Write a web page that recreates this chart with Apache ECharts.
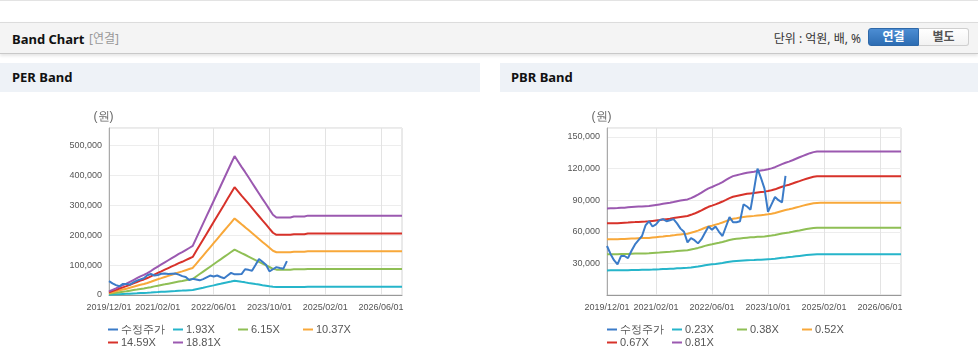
<!DOCTYPE html>
<html><head><meta charset="utf-8">
<script src="https://cdn.jsdelivr.net/npm/echarts@6/dist/echarts.min.js"></script>
<style>
html,body{margin:0;padding:0;width:978px;height:361px;overflow:hidden;background:#fff;font-family:'Noto Sans','Noto Sans CJK KR',sans-serif;}
.abs{position:absolute;}
#topline{left:0;top:0;width:978px;height:1px;background:#e3e3e3;}
#hdr{left:0;top:22px;width:978px;height:30px;background:#f4f4f4;border-top:1px solid #dcdcdc;border-bottom:1px solid #c9c9c9;box-shadow:0 2px 3px rgba(0,0,0,0.10);}
.title{font-weight:bold;font-size:13px;color:#111;line-height:18px;}
.sub{font-size:12px;color:#999;line-height:18px;}
.unit{font-size:12px;color:#333;line-height:18px;}
.btn{top:28px;height:18px;line-height:16px;font-size:12px;font-weight:bold;text-align:center;box-sizing:border-box;}
#b1{left:868px;width:51px;background:linear-gradient(#4c8dd3,#2d6db3);color:#fff;border-radius:3px 0 0 3px;border:1px solid #2e68a8;}
#b2{left:919px;width:50px;background:linear-gradient(#fff,#f2f2f2);color:#555;border:1px solid #cfcfcf;border-left:none;border-radius:0 3px 3px 0;}
.bar{top:63px;height:29px;background:#eef2f7;}
.bar span{position:absolute;left:12px;top:0;line-height:29px;font-weight:bold;font-size:13px;color:#111;}
#chart{left:0;top:92px;width:978px;height:269px;}
</style></head>
<body>
<div id="topline" class="abs"></div>
<div id="hdr" class="abs"></div>
<div class="abs title" style="left:12px;top:30px;">Band Chart</div>
<div class="abs sub" style="left:89px;top:30px;">[연결]</div>
<div class="abs unit" style="right:117px;top:30px;">단위 : 억원, 배, %</div>
<div id="b1" class="abs btn">연결</div>
<div id="b2" class="abs btn">별도</div>
<div class="abs bar" style="left:0;width:480px;"><span>PER Band</span></div>
<div class="abs bar" style="left:500px;width:478px;"><span style="left:11px">PBR Band</span></div>
<div id="chart" class="abs"></div>
<script>
// x axis tick labels and number of data steps between consecutive labels
const tickLabels = ['2019/12/01','2021/02/01','2022/06/01','2023/10/01','2025/02/01','2026/06/01'];
const stepsPerLabel = [14,16,16,16,16,7];

// values in thousands of won
const price = [46.5,39,33,29,37,37,35,42,48,52,56,66,70,65,67,71,72,70,71,72,68,63,60,50,54,52,49,53,59,65,62,65,60,56,65,74,69,69,70,86,84,81,100,120,111,101,79,86,93,90,88,113];

const perNames = ['1.93X','6.15X','10.37X','14.59X','18.81X'];
const per1 = [1.2,1.7,2.3,2.9,3.4,3.9,4.5,5.1,5.7,6.4,6.9,7.5,8.2,9.0,9.7,10.5,11.2,11.9,12.6,13.3,14.1,14.7,15.4,16.1,16.8,19.4,22.0,24.5,27.1,29.7,32.2,34.8,37.3,39.9,42.5,45.0,47.6,45.8,43.9,42.2,40.3,38.5,36.6,34.8,32.9,31.2,29.3,27.5,26.6,26.6,26.6,26.6,26.6,26.9,26.9,26.9,26.9,27.2,27.2,27.2,27.2,27.2,27.2,27.2,27.2,27.2,27.2,27.2,27.2,27.2,27.2,27.2,27.2,27.2,27.2,27.2,27.2,27.2,27.2,27.2,27.2,27.2,27.2,27.2,27.2];
const per2 = [3.9,5.6,7.2,9.2,10.8,12.4,14.4,16.4,18.3,20.3,21.9,23.9,26.2,28.8,31.1,33.4,35.6,37.9,40.2,42.5,44.8,46.8,49.1,51.3,53.6,61.8,70.0,78.2,86.3,94.5,102.7,110.9,119.0,127.2,135.4,143.6,151.7,145.8,140.0,134.4,128.5,122.6,116.7,110.9,105.0,99.4,93.5,87.6,84.7,84.7,84.7,84.7,84.7,85.7,85.7,85.7,85.7,86.7,86.7,86.7,86.7,86.7,86.7,86.7,86.7,86.7,86.7,86.7,86.7,86.7,86.7,86.7,86.7,86.7,86.7,86.7,86.7,86.7,86.7,86.7,86.7,86.7,86.7,86.7,86.7];
const per3 = [6.6,9.4,12.1,15.4,18.2,20.9,24.3,27.6,30.9,34.2,36.9,40.2,44.1,48.5,52.4,56.2,60.1,64.0,67.8,71.7,75.5,78.8,82.7,86.6,90.4,104.2,118.0,131.8,145.5,159.3,173.1,186.9,200.7,214.5,228.2,242.0,255.8,245.9,236.0,226.6,216.7,206.7,196.8,186.9,177.0,167.6,157.7,147.7,142.8,142.8,142.8,142.8,142.8,144.4,144.4,144.4,144.4,146.1,146.1,146.1,146.1,146.1,146.1,146.1,146.1,146.1,146.1,146.1,146.1,146.1,146.1,146.1,146.1,146.1,146.1,146.1,146.1,146.1,146.1,146.1,146.1,146.1,146.1,146.1,146.1];
const per4 = [9.3,13.2,17.1,21.7,25.6,29.5,34.1,38.8,43.4,48.1,52.0,56.6,62.1,68.3,73.7,79.1,84.6,90.0,95.4,100.8,106.3,110.9,116.4,121.8,127.2,146.6,166.0,185.4,204.8,224.2,243.6,263.0,282.4,301.7,321.1,340.5,359.9,346.0,332.0,318.8,304.9,290.9,276.9,263.0,249.0,235.8,221.9,207.9,200.9,200.9,200.9,200.9,200.9,203.2,203.2,203.2,203.2,205.6,205.6,205.6,205.6,205.6,205.6,205.6,205.6,205.6,205.6,205.6,205.6,205.6,205.6,205.6,205.6,205.6,205.6,205.6,205.6,205.6,205.6,205.6,205.6,205.6,205.6,205.6,205.6];
const per5 = [12,17,22,28,33,38,44,50,56,62,67,73,80,88,95,102,109,116,123,130,137,143,150,157,164,189,214,239,264,289,314,339,364,389,414,439,464,446,428,411,393,375,357,339,321,304,286,268,259,259,259,259,259,262,262,262,262,265,265,265,265,265,265,265,265,265,265,265,265,265,265,265,265,265,265,265,265,265,265,265,265,265,265,265,265];

const pbrNames = ['0.23X','0.38X','0.52X','0.67X','0.81X'];
const pbr1 = [23.3,23.4,23.4,23.4,23.5,23.5,23.6,23.7,23.8,23.8,23.9,23.9,24.0,24.1,24.3,24.4,24.6,24.7,24.9,25.0,25.3,25.4,25.6,25.8,26.1,26.6,27.0,27.6,28.2,28.7,29.1,29.5,30.0,30.4,31.0,31.6,32.0,32.3,32.5,32.7,32.9,33.1,33.2,33.4,33.5,33.7,33.9,34.1,34.4,34.9,35.3,35.6,36.0,36.3,36.7,37.1,37.5,37.9,38.2,38.5,38.7,38.7,38.7,38.7,38.7,38.7,38.7,38.7,38.7,38.7,38.7,38.7,38.7,38.7,38.7,38.7,38.7,38.7,38.7,38.7,38.7,38.7,38.7,38.7,38.7];
const pbr2 = [38.6,38.6,38.7,38.7,38.8,38.9,39.0,39.2,39.3,39.4,39.5,39.5,39.6,39.9,40.1,40.3,40.6,40.8,41.0,41.4,41.7,42.0,42.3,42.5,43.2,43.9,44.7,45.6,46.6,47.5,48.1,48.8,49.5,50.3,51.2,52.2,52.9,53.3,53.7,54.1,54.4,54.7,54.9,55.2,55.4,55.6,56.0,56.4,56.9,57.6,58.3,58.9,59.4,60.0,60.7,61.3,62.0,62.6,63.1,63.6,63.9,63.9,63.9,63.9,63.9,63.9,63.9,63.9,63.9,63.9,63.9,63.9,63.9,63.9,63.9,63.9,63.9,63.9,63.9,63.9,63.9,63.9,63.9,63.9,63.9];
const pbr3 = [52.8,52.8,52.9,53.0,53.1,53.2,53.4,53.6,53.7,53.9,54.0,54.1,54.2,54.6,54.9,55.2,55.5,55.9,56.2,56.6,57.1,57.5,57.9,58.2,59.1,60.0,61.1,62.4,63.8,65.0,65.8,66.8,67.7,68.8,70.1,71.4,72.4,72.9,73.5,74.0,74.5,74.8,75.1,75.5,75.8,76.1,76.6,77.2,77.9,78.8,79.7,80.6,81.3,82.1,83.0,83.9,84.8,85.6,86.4,87.1,87.4,87.5,87.5,87.5,87.5,87.5,87.5,87.5,87.5,87.5,87.5,87.5,87.5,87.5,87.5,87.5,87.5,87.5,87.5,87.5,87.5,87.5,87.5,87.5,87.5];
const pbr4 = [68.0,68.1,68.2,68.2,68.4,68.6,68.8,69.1,69.2,69.4,69.6,69.7,69.9,70.3,70.7,71.1,71.6,72.0,72.4,73.0,73.6,74.1,74.6,75.0,76.1,77.3,78.8,80.4,82.1,83.7,84.8,86.0,87.3,88.7,90.3,92.0,93.3,94.0,94.7,95.4,96.0,96.4,96.8,97.3,97.7,98.1,98.7,99.4,100.3,101.6,102.7,103.8,104.7,105.8,107.0,108.1,109.3,110.3,111.3,112.2,112.7,112.7,112.7,112.7,112.7,112.7,112.7,112.7,112.7,112.7,112.7,112.7,112.7,112.7,112.7,112.7,112.7,112.7,112.7,112.7,112.7,112.7,112.7,112.7,112.7];
const pbr5 = [82.2,82.3,82.4,82.5,82.7,82.9,83.2,83.5,83.7,83.9,84.1,84.3,84.5,85.0,85.5,86.0,86.5,87.0,87.5,88.2,89.0,89.6,90.2,90.7,92.0,93.5,95.2,97.2,99.3,101.2,102.5,104.0,105.5,107.2,109.2,111.2,112.8,113.6,114.5,115.3,116.0,116.5,117.0,117.6,118.1,118.6,119.3,120.2,121.3,122.8,124.2,125.5,126.6,127.9,129.3,130.7,132.1,133.4,134.6,135.6,136.2,136.3,136.3,136.3,136.3,136.3,136.3,136.3,136.3,136.3,136.3,136.3,136.3,136.3,136.3,136.3,136.3,136.3,136.3,136.3,136.3,136.3,136.3,136.3,136.3];

const colors = ['#3b7bc8','#26b5ca','#8fbf55','#f8a83a','#d7322a','#9b59b0'];
const priceName = '수정주가';

// build category axis
const categories = [];
tickLabels.forEach((t, i) => { for (let k = 0; k < stepsPerLabel[i]; k++) categories.push(k === 0 ? t : t + '#' + k); });
const tickSet = new Set(tickLabels);
const showTick = (i, v) => tickSet.has(v);

const font = "'Liberation Sans',Arial,sans-serif";
const fmt = v => Math.round(v * 1000).toLocaleString('en-US');

function xAxis(gi) {
  return {
    type: 'category', gridIndex: gi, data: categories, boundaryGap: false,
    axisLine: { lineStyle: { color: '#999' } },
    axisTick: { show: false },
    axisLabel: { interval: showTick, color: '#555', fontSize: 9, fontFamily: font, margin: 8, showMinLabel: true, showMaxLabel: true },
    splitLine: { show: true, interval: showTick, lineStyle: { color: '#e3e3e3' } }
  };
}
function yAxis(gi, max, interval, showMin) {
  return {
    type: 'value', gridIndex: gi, min: 0, max: max, interval: interval,
    name: '(원)', nameLocation: 'end', nameGap: 5,
    nameTextStyle: { color: '#666', fontSize: 12, padding: [0, 11, 0, 0] },
    axisLine: { show: true, lineStyle: { color: '#aaa' } },
    axisTick: { show: false },
    axisLabel: { color: '#555', fontSize: 9, fontFamily: font, formatter: fmt, showMaxLabel: false, showMinLabel: showMin, margin: 7 },
    splitLine: { show: true, lineStyle: { color: '#ededed' } }
  };
}
function line(name, data, gi, color, z) {
  return { type: 'line', name: name, data: data, xAxisIndex: gi, yAxisIndex: gi, symbol: 'none',
    lineStyle: { width: 2, color: color }, itemStyle: { color: color }, z: z, silent: true, animation: false };
}
// one legend per entry, laid out in fixed-width columns (4 per row)
function legendBlock(names, baseLeft) {
  return names.map((n, i) => ({
    data: [n], left: baseLeft + (i % 4) * 65, top: 232 + Math.floor(i / 4) * 13,
    padding: 0, itemWidth: 10, itemHeight: 2, icon: 'rect', selectedMode: false,
    textStyle: { color: '#555', fontSize: 11, fontFamily: font, padding: [0, 0, 0, -2] }
  }));
}

const perBands = [per1, per2, per3, per4, per5];
const pbrBands = [pbr1, pbr2, pbr3, pbr4, pbr5];
const series = [];
series.push(line(priceName, price, 0, colors[0], 5));
perBands.forEach((d, i) => series.push(line(perNames[i], d, 0, colors[i + 1], 3)));
series.push(line(priceName, price, 1, colors[0], 5));
pbrBands.forEach((d, i) => series.push(line(pbrNames[i], d, 1, colors[i + 1], 3)));

const chart = echarts.init(document.getElementById('chart'), null, { renderer: 'canvas' });
chart.setOption({
  animation: false,
  grid: [
    { left: 109, top: 36, width: 293, height: 167, show: true, borderColor: '#d4d4d4', borderWidth: 1 },
    { left: 607, top: 36, width: 294, height: 167, show: true, borderColor: '#d4d4d4', borderWidth: 1 }
  ],
  xAxis: [xAxis(0), xAxis(1)],
  yAxis: [yAxis(0, 557.7, 100, true), yAxis(1, 158.5, 30, false)],
  legend: legendBlock([priceName].concat(perNames), 108).concat(legendBlock([priceName].concat(pbrNames), 607)),
  series: series
});
</script>
</body></html>
